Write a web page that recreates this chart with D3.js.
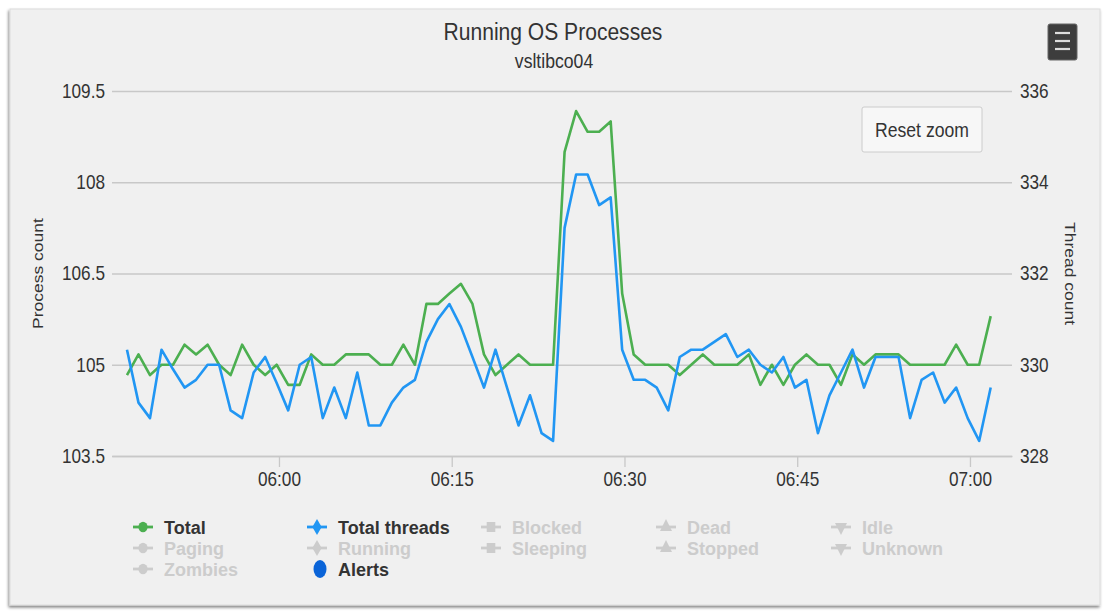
<!DOCTYPE html>
<html><head><meta charset="utf-8">
<script src="https://cdn.jsdelivr.net/npm/d3@7"></script>
<style>html,body{margin:0;padding:0;background:#fff;} svg{display:block;font-family:"Liberation Sans",Arial,Helvetica,sans-serif;}</style>
</head><body><svg id="c" width="1104" height="613"></svg>
<script>
// ---- data ----
const chartTitle = "Running OS Processes";
const chartSubtitle = "vsltibco04";
const startTime = "05:46:48";
const intervalMinutes = 1;
const xRange = ["05:45:30", "07:03:39"];
const xTickMinutes = 15;
const leftTicks = [103.5, 105, 106.5, 108, 109.5];
const rightTicks = [328, 330, 332, 334, 336];
const totalProcesses = [104.83,105.17,104.83,105,105,105.33,105.17,105.33,105,104.83,
  105.33,105,104.83,105,104.67,104.67,105.17,105,105,105.17,
  105.17,105.17,105,105,105.33,105,106,106,106.17,106.33,
  106,105.17,104.83,105,105.17,105,105,105,108.5,109.17,
  108.83,108.83,109,106.17,105.17,105,105,105,104.83,105,
  105.17,105,105,105,105.17,104.67,105,104.67,105,105.17,
  105,105,104.67,105.17,105,105.17,105.17,105.17,105,105,
  105,105,105.33,105,105,105.8];
const totalThreads = [330.33,329.17,328.83,330.33,329.9,329.5,329.67,330,330,329,
  328.83,329.83,330.17,329.6,329,330,330.17,328.83,329.5,328.83,
  329.83,328.67,328.67,329.17,329.5,329.67,330.5,331,331.33,330.83,
  330.17,329.5,330.33,329.5,328.67,329.33,328.5,328.33,333,334.17,
  334.17,333.5,333.67,330.33,329.67,329.67,329.5,329,330.17,330.33,
  330.33,330.5,330.67,330.17,330.33,330,329.83,330.17,329.5,329.67,
  328.5,329.33,329.83,330.33,329.5,330.17,330.17,330.17,328.83,329.67,
  329.83,329.17,329.5,328.83,328.33,329.5];
const legendNames = ["Total","Total threads","Blocked","Dead","Idle","Paging","Running","Sleeping","Stopped","Unknown","Zombies","Alerts"];
const legendSymbols = ["circle","diamond","square","triangle","triangle-down","circle","diamond","square","triangle","triangle-down","circle","alert"];
const legendVisible = [true,true,false,false,false,false,false,false,false,false,false,true];

// ---- style / layout ----
const GREEN = "#4caf50", BLUE = "#2196f3", ALERT = "#0a64d8", HIDDEN = "#cccccc", TXT = "#333333";
const SX = 0.86; // horizontal glyph compression seen in the reference
const plot = {left: 112, right: 1012, top: 91, bottom: 456};

const svg = d3.select("#c");
const parseT = d3.timeParse("%Y-%m-%d %H:%M:%S");
const day = "2020-01-01 ";
const t0 = parseT(day + startTime);
const times = totalProcesses.map((_, i) => d3.timeMinute.offset(t0, i * intervalMinutes));

const x = d3.scaleTime().domain(xRange.map(s => parseT(day + s))).range([plot.left, plot.right]);
const yL = d3.scaleLinear().domain([leftTicks[0], leftTicks[leftTicks.length-1]]).range([plot.bottom, plot.top]);
const yR = d3.scaleLinear().domain([rightTicks[0], rightTicks[rightTicks.length-1]]).range([plot.bottom, plot.top]);

function label(parent, px, py, text, size, o = {}) {
  const sx = o.sx || SX;
  const g = parent.append("g").attr("transform", `translate(${px},${py}) scale(${sx},1)` + (o.rotate ? ` rotate(${o.rotate})` : ""));
  return g.append("text").attr("text-anchor", o.anchor || "start")
    .attr("font-size", size).attr("font-weight", o.weight || "normal")
    .attr("fill", o.fill || TXT).text(text);
}

// card
const defs = svg.append("defs");
const f = defs.append("filter").attr("id", "sh").attr("x", "-5%").attr("y", "-5%").attr("width", "110%").attr("height", "110%");
f.append("feGaussianBlur").attr("in", "SourceAlpha").attr("stdDeviation", 1.5);
f.append("feOffset").attr("dx", -1).attr("dy", 2).attr("result", "ob");
f.append("feComponentTransfer").append("feFuncA").attr("type", "linear").attr("slope", 0.5);
const fm = f.append("feMerge"); fm.append("feMergeNode"); fm.append("feMergeNode").attr("in", "SourceGraphic");
svg.append("rect").attr("x", 10).attr("y", 9).attr("width", 1090).attr("height", 596)
  .attr("fill", "#f0f0f0").attr("stroke", "#dcdcdc").attr("filter", "url(#sh)");

// titles
label(svg, 553, 40, chartTitle, 24.5, {anchor: "middle"});
label(svg, 554, 68, chartSubtitle, 20.5, {anchor: "middle"});

// grid
svg.append("g").attr("transform", `translate(${plot.left},0)`)
  .call(d3.axisLeft(yL).tickValues(leftTicks).tickSize(-(plot.right - plot.left)).tickFormat(""))
  .call(g => g.select(".domain").remove())
  .call(g => g.selectAll("line").attr("stroke", "#c8c8c8").attr("stroke-width", 1.3));

// left axis labels
svg.append("g").attr("transform", `translate(${plot.left},0)`)
  .call(d3.axisLeft(yL).tickValues(leftTicks).tickSize(0).tickPadding(7).tickFormat(d3.format("")))
  .call(g => g.select(".domain").remove())
  .call(g => g.selectAll("text").attr("font-size", 20).attr("fill", TXT).attr("font-family", null)
    .attr("transform", `scale(${SX},1)`).attr("x", -7 / SX));

// right axis labels
svg.append("g").attr("transform", `translate(${plot.right},0)`)
  .call(d3.axisRight(yR).tickValues(rightTicks).tickSize(0).tickPadding(8))
  .call(g => g.select(".domain").remove())
  .call(g => g.selectAll("text").attr("font-size", 20).attr("fill", TXT).attr("font-family", null)
    .attr("transform", `scale(${SX},1)`).attr("x", 8 / SX));

// bottom axis
svg.append("g").attr("transform", `translate(0,${plot.bottom})`)
  .call(d3.axisBottom(x).ticks(d3.timeMinute.every(xTickMinutes)).tickFormat(d3.timeFormat("%H:%M"))
    .tickSize(11).tickSizeOuter(0).tickPadding(5))
  .call(g => g.select(".domain").attr("stroke", "#c8c8c8").attr("stroke-width", 1.3))
  .call(g => g.selectAll(".tick line").attr("stroke", "#c8c8c8").attr("stroke-width", 1.3))
  .call(g => g.selectAll("text").attr("font-size", 20).attr("fill", TXT).attr("font-family", null)
    .attr("transform", `scale(${SX},1)`));

// axis titles
label(svg, 43, (plot.top + plot.bottom) / 2, "Process count", 17.5, {anchor: "middle", rotate: -90});
label(svg, 1065, (plot.top + plot.bottom) / 2, "Thread count", 17.5, {anchor: "middle", rotate: 90});

// series
const lineL = d3.line().x((d, i) => x(times[i])).y(d => yL(d));
const lineR = d3.line().x((d, i) => x(times[i])).y(d => yR(d));
svg.append("path").datum(totalProcesses).attr("d", lineL).attr("fill", "none")
  .attr("stroke", GREEN).attr("stroke-width", 2.6).attr("stroke-linejoin", "round");
svg.append("path").datum(totalThreads).attr("d", lineR).attr("fill", "none")
  .attr("stroke", BLUE).attr("stroke-width", 2.6).attr("stroke-linejoin", "round");

// reset zoom button
const rb = svg.append("g");
rb.append("rect").attr("x", 862).attr("y", 107).attr("width", 120).attr("height", 45).attr("rx", 2)
  .attr("fill", "#f7f7f7").attr("stroke", "#cccccc");
label(rb, 922, 137, "Reset zoom", 20.5, {anchor: "middle"});

// menu button
const mb = svg.append("g");
mb.append("rect").attr("x", 1048).attr("y", 24).attr("width", 29).attr("height", 36).attr("rx", 2)
  .attr("fill", "#3d3d3d").attr("stroke", "#666");
[33, 41, 49].forEach(yy => mb.append("line").attr("x1", 1055).attr("x2", 1070).attr("y1", yy).attr("y2", yy)
  .attr("stroke", "#dddddd").attr("stroke-width", 2.2));

// legend
const legColX = [143, 317, 491, 666, 841], legRowY = [527, 548, 569];
const sym = {circle: d3.symbolCircle, diamond: d3.symbolDiamond, square: d3.symbolSquare, triangle: d3.symbolTriangle};
const symSize = {circle: 90, diamond: 75, square: 100, triangle: 85};
const leg = svg.append("g");
legendNames.forEach((name, i) => {
  const cx = legColX[i % 5], cy = legRowY[Math.floor(i / 5)];
  const col = legendVisible[i] ? (i === 0 ? GREEN : BLUE) : HIDDEN;
  const s = legendSymbols[i];
  if (s === "alert") {
    leg.append("ellipse").attr("cx", cx + 3).attr("cy", cy).attr("rx", 6.5).attr("ry", 9).attr("fill", ALERT);
  } else {
    leg.append("line").attr("x1", cx - 10).attr("x2", cx + 10).attr("y1", cy).attr("y2", cy)
      .attr("stroke", col).attr("stroke-width", 2.8);
    const sh = s === "triangle-down" ? "triangle" : s;
    leg.append("path").attr("d", d3.symbol().type(sym[sh]).size(symSize[sh])())
      .attr("transform", `translate(${cx},${cy})` + ` scale(${s === "diamond" ? 1 : SX},1)` + (s === "triangle-down" ? " rotate(180)" : ""))
      .attr("fill", col);
  }
  label(leg, cx + 21, cy + 6.5, name, 18, {weight: "bold", sx: 1.0, fill: legendVisible[i] ? TXT : HIDDEN});
});
</script></body></html>
